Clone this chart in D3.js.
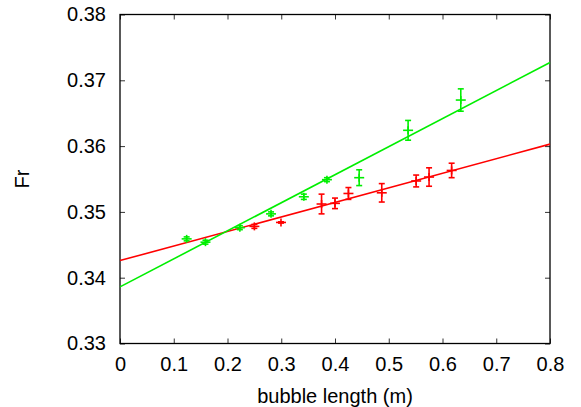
<!DOCTYPE html>
<html>
<head>
<meta charset="utf-8">
<script src="https://cdn.jsdelivr.net/npm/d3@7"></script>
<style>
    body { margin: 0; background: #fff; }
    svg text { font-family: "Liberation Sans", Arial, sans-serif; fill: #000; }
</style>
</head>
<body>
<svg id="chart" width="581" height="407"></svg>
<script>
// green series
var greenX = [0.124, 0.159, 0.223, 0.281, 0.342, 0.385, 0.445, 0.536, 0.634],
    greenY = [0.3459, 0.3454, 0.3476, 0.3497, 0.3523, 0.3549, 0.3552, 0.3624, 0.3670],
    greenErr = [0.0003, 0.0003, 0.0003, 0.0003, 0.0004, 0.0003, 0.0012, 0.0015, 0.0017];
// red series
var redX = [0.250, 0.2995, 0.375, 0.400, 0.425, 0.487, 0.551, 0.575, 0.617],
    redY = [0.3478, 0.3484, 0.3512, 0.3513, 0.3528, 0.3529, 0.3547, 0.3553, 0.3563],
    redErr = [0.0003, 0.0001, 0.0015, 0.0008, 0.0009, 0.0014, 0.0009, 0.0014, 0.0011];
// fitted lines (end points)
var fitX = [0, 0.8],
    greenFitY = [0.3386, 0.3727],
    redFitY = [0.3426, 0.3603];
// ticks
var xTicks = [0, 0.1, 0.2, 0.3, 0.4, 0.5, 0.6, 0.7, 0.8],
    yTicks = [0.33, 0.34, 0.35, 0.36, 0.37, 0.38];

var svg = d3.select("#chart"),
    margin = {top: 14.5, right: 31, bottom: 63.5, left: 120},
    width = 581 - margin.left - margin.right,
    height = 407 - margin.top - margin.bottom,
    g = svg.append("g").attr("transform", "translate(" + margin.left + "," + margin.top + ")"),
    x = d3.scaleLinear().domain([0, 0.8]).range([0, width]),
    y = d3.scaleLinear().domain([0.33, 0.38]).range([height, 0]),
    fmt = d3.format(".2f");

// axes with inward ticks, mirrored on top and right
g.append("g")
    .attr("transform", "translate(0," + height + ")")
    .call(d3.axisBottom(x).tickValues(xTicks).tickSizeInner(-5).tickSizeOuter(0).tickPadding(13)
        .tickFormat(function(d) { return d === 0 ? "0" : d3.format(".1f")(d); }))
    .call(function(a) { a.select(".domain").remove(); a.selectAll("text").style("font-size", "20px"); });

g.append("g")
    .call(d3.axisLeft(y).tickValues(yTicks).tickSizeInner(-5).tickSizeOuter(0).tickPadding(14).tickFormat(fmt))
    .call(function(a) { a.select(".domain").remove(); a.selectAll("text").style("font-size", "20px"); });

g.append("g")
    .call(d3.axisTop(x).tickValues(xTicks).tickSizeInner(-5).tickSizeOuter(0).tickFormat(""))
    .select(".domain").remove();

g.append("g")
    .attr("transform", "translate(" + width + ",0)")
    .call(d3.axisRight(y).tickValues(yTicks).tickSizeInner(-5).tickSizeOuter(0).tickFormat(""))
    .select(".domain").remove();

g.selectAll(".tick line").attr("stroke", "#333").attr("stroke-width", 1);

g.append("rect")
    .attr("width", width)
    .attr("height", height)
    .attr("fill", "none")
    .attr("stroke", "#000")
    .attr("stroke-width", 1.3);

// axis titles
svg.append("text")
    .attr("x", margin.left + width / 2)
    .attr("y", 403)
    .attr("text-anchor", "middle")
    .style("font-size", "20px")
    .text("bubble length (m)");

svg.append("text")
    .attr("transform", "translate(29," + (margin.top + height / 2) + ") rotate(-90)")
    .attr("text-anchor", "middle")
    .style("font-size", "20px")
    .text("Fr");

var line = d3.line()
    .x(function(d) { return x(d[0]); })
    .y(function(d) { return y(d[1]); });

function drawSeries(xs, ys, errs, fitY, color) {
    g.append("path")
        .datum(d3.zip(fitX, fitY))
        .attr("fill", "none")
        .attr("stroke", color)
        .attr("stroke-width", 1.6)
        .attr("d", line);

    var pts = g.append("g").selectAll("g")
        .data(d3.range(xs.length))
        .enter().append("g")
        .attr("stroke", color)
        .attr("stroke-width", 1.6)
        .attr("fill", "none");

    // error bar
    pts.append("line")
        .attr("x1", function(i) { return x(xs[i]); })
        .attr("x2", function(i) { return x(xs[i]); })
        .attr("y1", function(i) { return y(ys[i] - errs[i]); })
        .attr("y2", function(i) { return y(ys[i] + errs[i]); });
    // caps
    [-1, 1].forEach(function(s) {
        pts.append("line")
            .attr("x1", function(i) { return x(xs[i]) - 3; })
            .attr("x2", function(i) { return x(xs[i]) + 3; })
            .attr("y1", function(i) { return y(ys[i] + s * errs[i]); })
            .attr("y2", function(i) { return y(ys[i] + s * errs[i]); });
    });
    // plus symbol
    pts.append("line")
        .attr("x1", function(i) { return x(xs[i]) - 5; })
        .attr("x2", function(i) { return x(xs[i]) + 5; })
        .attr("y1", function(i) { return y(ys[i]); })
        .attr("y2", function(i) { return y(ys[i]); });
    pts.append("line")
        .attr("x1", function(i) { return x(xs[i]); })
        .attr("x2", function(i) { return x(xs[i]); })
        .attr("y1", function(i) { return y(ys[i]) - 4; })
        .attr("y2", function(i) { return y(ys[i]) + 4; });
}

drawSeries(redX, redY, redErr, redFitY, "#ff0000");
drawSeries(greenX, greenY, greenErr, greenFitY, "#00ee00");
</script>
</body>
</html>
